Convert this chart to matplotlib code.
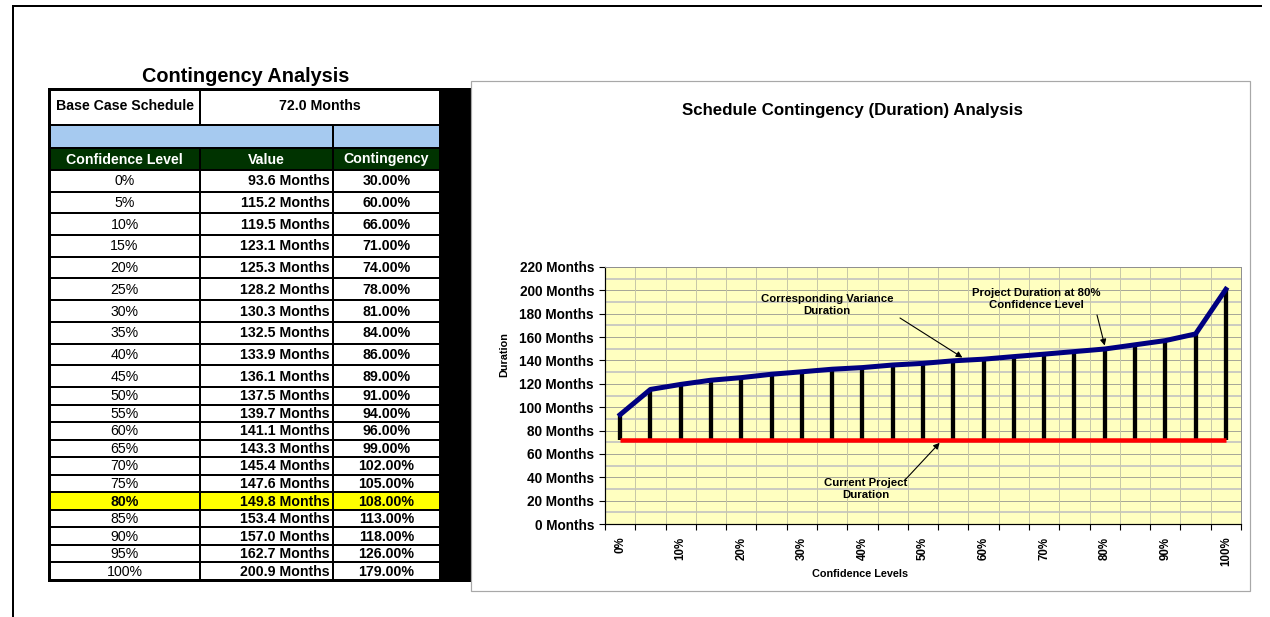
import matplotlib
matplotlib.use("Agg")
import matplotlib.pyplot as plt
from matplotlib.patches import Rectangle

plt.rcParams['font.family'] = ['Liberation Sans', 'DejaVu Sans']

# ---- data -------------------------------------------------------------
confidence_levels = ["0%", "5%", "10%", "15%", "20%", "25%", "30%", "35%", "40%", "45%",
                     "50%", "55%", "60%", "65%", "70%", "75%", "80%", "85%", "90%", "95%", "100%"]
duration_months = [93.6, 115.2, 119.5, 123.1, 125.3, 128.2, 130.3, 132.5, 133.9, 136.1,
                   137.5, 139.7, 141.1, 143.3, 145.4, 147.6, 149.8, 153.4, 157.0, 162.7, 200.9]
contingency_pct = [30, 60, 66, 71, 74, 78, 81, 84, 86, 89,
                   91, 94, 96, 99, 102, 105, 108, 113, 118, 126, 179]
base_case_months = 72.0
highlight_level = "80%"
y_ticks = list(range(0, 221, 20))

W, H = 1270, 617
fig = plt.figure(figsize=(W / 100, H / 100), dpi=100)

# full-figure pixel canvas for the table and frames
cv = fig.add_axes([0, 0, 1, 1], zorder=0)
cv.set_xlim(0, W)
cv.set_ylim(H, 0)
cv.axis("off")

px = 0.72  # points per pixel at 100 dpi

# outer frame (top and left edges)
cv.plot([12, 1262], [5.5, 5.5], color="black", lw=2 * px, solid_capstyle="butt")
cv.plot([12.5, 12.5], [5, H], color="black", lw=2 * px, solid_capstyle="butt")

# ---- table ------------------------------------------------------------
cv.text(246, 77, "Contingency Analysis", ha="center", va="center",
        fontsize=14.3, fontweight="bold")

col_x = [49, 200, 333, 440]
c1 = (col_x[0] + col_x[1]) / 2
c2 = (col_x[1] + col_x[2]) / 2
c3 = (col_x[2] + col_x[3]) / 2

# dark block to the right of the table
cv.add_patch(Rectangle((440, 88), 31, 494, facecolor="black", edgecolor="none"))

# base case row
top_row = (89, 124)
cv.text(c1, sum(top_row) / 2, "Base Case Schedule", ha="center", va="center",
        fontsize=10.2, fontweight="bold")
cv.text((col_x[1] + col_x[3]) / 2, sum(top_row) / 2, f"{base_case_months:.1f} Months",
        ha="center", va="center", fontsize=10.2, fontweight="bold")

# blue spacer row
blue_row = (125, 148)
cv.add_patch(Rectangle((col_x[0], blue_row[0]), col_x[3] - col_x[0], blue_row[1] - blue_row[0],
                       facecolor="#a6caf0", edgecolor="none"))

# header row
hdr_row = (148, 170)
cv.add_patch(Rectangle((col_x[0], hdr_row[0]), col_x[3] - col_x[0], hdr_row[1] - hdr_row[0],
                       facecolor="#003300", edgecolor="none"))
for cx, label in zip([c1, c2, c3], ["Confidence Level", "Value", "Contingency"]):
    cv.text(cx, sum(hdr_row) / 2 + 0.5, label, ha="center", va="center",
            fontsize=10.2, fontweight="bold", color="white")

# data rows
row_edges = [170]
for i in range(len(confidence_levels)):
    row_edges.append(row_edges[-1] + (21.7 if i < 10 else 17.55))

for i, (lvl, val, cont) in enumerate(zip(confidence_levels, duration_months, contingency_pct)):
    y0, y1 = row_edges[i], row_edges[i + 1]
    ym = (y0 + y1) / 2 + 0.5
    hl = lvl == highlight_level
    if hl:
        cv.add_patch(Rectangle((col_x[0], y0), col_x[3] - col_x[0], y1 - y0,
                               facecolor="#ffff00", edgecolor="none"))
    cv.text(c1, ym, lvl, ha="center", va="center", fontsize=10.2,
            fontweight="bold" if hl else "normal")
    cv.text(col_x[2] - 3, ym, f"{val:.1f} Months", ha="right", va="center",
            fontsize=10.2, fontweight="bold")
    cv.text(c3, ym, f"{cont:.2f}%", ha="center", va="center",
            fontsize=10.2, fontweight="bold")

# table rules
lw_in = 2 * px
for y in [124.5, 148, 170] + row_edges[1:-1]:
    cv.plot([col_x[0], col_x[3]], [y, y], color="black", lw=lw_in, solid_capstyle="butt")
cv.plot([col_x[1], col_x[1]], [89, 124.5], color="black", lw=lw_in)
cv.plot([col_x[1], col_x[1]], [148, row_edges[-1]], color="black", lw=lw_in)
cv.plot([col_x[2], col_x[2]], [124.5, row_edges[-1]], color="black", lw=lw_in)
cv.add_patch(Rectangle((col_x[0], 89), col_x[3] - col_x[0], row_edges[-1] - 89,
                       facecolor="none", edgecolor="black", lw=3 * px))

# ---- chart ------------------------------------------------------------
cv.add_patch(Rectangle((471, 81), 779, 510, facecolor="white", edgecolor="#a8a8a8", lw=1.2 * px))
cv.text(852, 110, "Schedule Contingency (Duration) Analysis", ha="center", va="center",
        fontsize=12.2, fontweight="bold")

pl, pr, pt, pb = 605, 1241, 267, 524
ax = fig.add_axes([pl / W, 1 - pb / H, (pr - pl) / W, (pb - pt) / H], zorder=2)
ax.set_facecolor("#ffffc0")

n = len(confidence_levels)
xs = list(range(n))
ax.set_xlim(-0.5, n - 0.5)
ax.set_ylim(0, 220)

# grid
for v in range(10, 220, 10):
    ax.axhline(v, color="#c0c0c0" if v % 20 else "#a8a898", lw=(1.6 if v % 20 else 1.0) * px, zorder=0)
for k in range(1, n):
    ax.axvline(k - 0.5, color="#c8c8a8", lw=1.0 * px, zorder=0)

# stems from the base case duration to each confidence-level duration
ax.vlines(xs, base_case_months, duration_months, color="black", lw=4.3 * px, zorder=2)
ax.hlines(base_case_months, xs[0], xs[-1], color="#ff0000", lw=4.5 * px, zorder=3)
ax.plot(xs, duration_months, color="#000080", lw=5 * px, zorder=4, solid_joinstyle="round")

# axes styling
for s in ["top", "right"]:
    ax.spines[s].set_color("#909090")
    ax.spines[s].set_linewidth(1 * px)
for s in ["left", "bottom"]:
    ax.spines[s].set_color("black")
    ax.spines[s].set_linewidth(1.2 * px)

ax.set_yticks(y_ticks, [f"{v} Months" for v in y_ticks])
ax.tick_params(axis="y", direction="out", length=4, width=0.8, pad=4, labelsize=9.8)
for t in ax.get_yticklabels():
    t.set_fontweight("bold")

ax.set_xticks([k - 0.5 for k in range(n + 1)], [""] * (n + 1))
ax.tick_params(axis="x", which="major", direction="out", length=4, width=0.8)
ax.set_xticks(xs[::2], confidence_levels[::2], minor=True)
ax.tick_params(axis="x", which="minor", length=0, pad=9, labelsize=8.3, labelrotation=90)
for t in ax.get_xticklabels(minor=True):
    t.set_fontweight("bold")

cv.text(860, 574, "Confidence Levels", ha="center", va="center", fontsize=7.8, fontweight="bold")
cv.text(504, 355, "Duration", ha="center", va="center", rotation=90, fontsize=7.8, fontweight="bold")

# annotations (drawn on the plot axes, positioned in figure pixels)
ann_font = dict(fontsize=8.2, fontweight="bold", ha="center", va="center", linespacing=1.15,
                transform=cv.transData, clip_on=False, zorder=6)
ax.text(827, 305, "Corresponding Variance\nDuration", **ann_font)
ax.text(1036, 299, "Project Duration at 80%\nConfidence Level", **ann_font)
ax.text(866, 489, "Current Project\nDuration", **ann_font)

arrow = dict(arrowstyle="-|>", color="black", lw=0.8, mutation_scale=9, shrinkA=0, shrinkB=0)
i80 = confidence_levels.index(highlight_level)
ax.annotate("", xy=(11.3, 142.5), xycoords="data", xytext=(900, 318),
            textcoords=cv.transData, arrowprops=arrow, zorder=6)
ax.annotate("", xy=(i80, duration_months[i80] + 3), xycoords="data", xytext=(1097, 315),
            textcoords=cv.transData, arrowprops=arrow, zorder=6)
ax.annotate("", xy=(10.55, base_case_months - 2.5), xycoords="data", xytext=(905, 480),
            textcoords=cv.transData, arrowprops=arrow, zorder=6)

fig.savefig("out.png", dpi=100)
